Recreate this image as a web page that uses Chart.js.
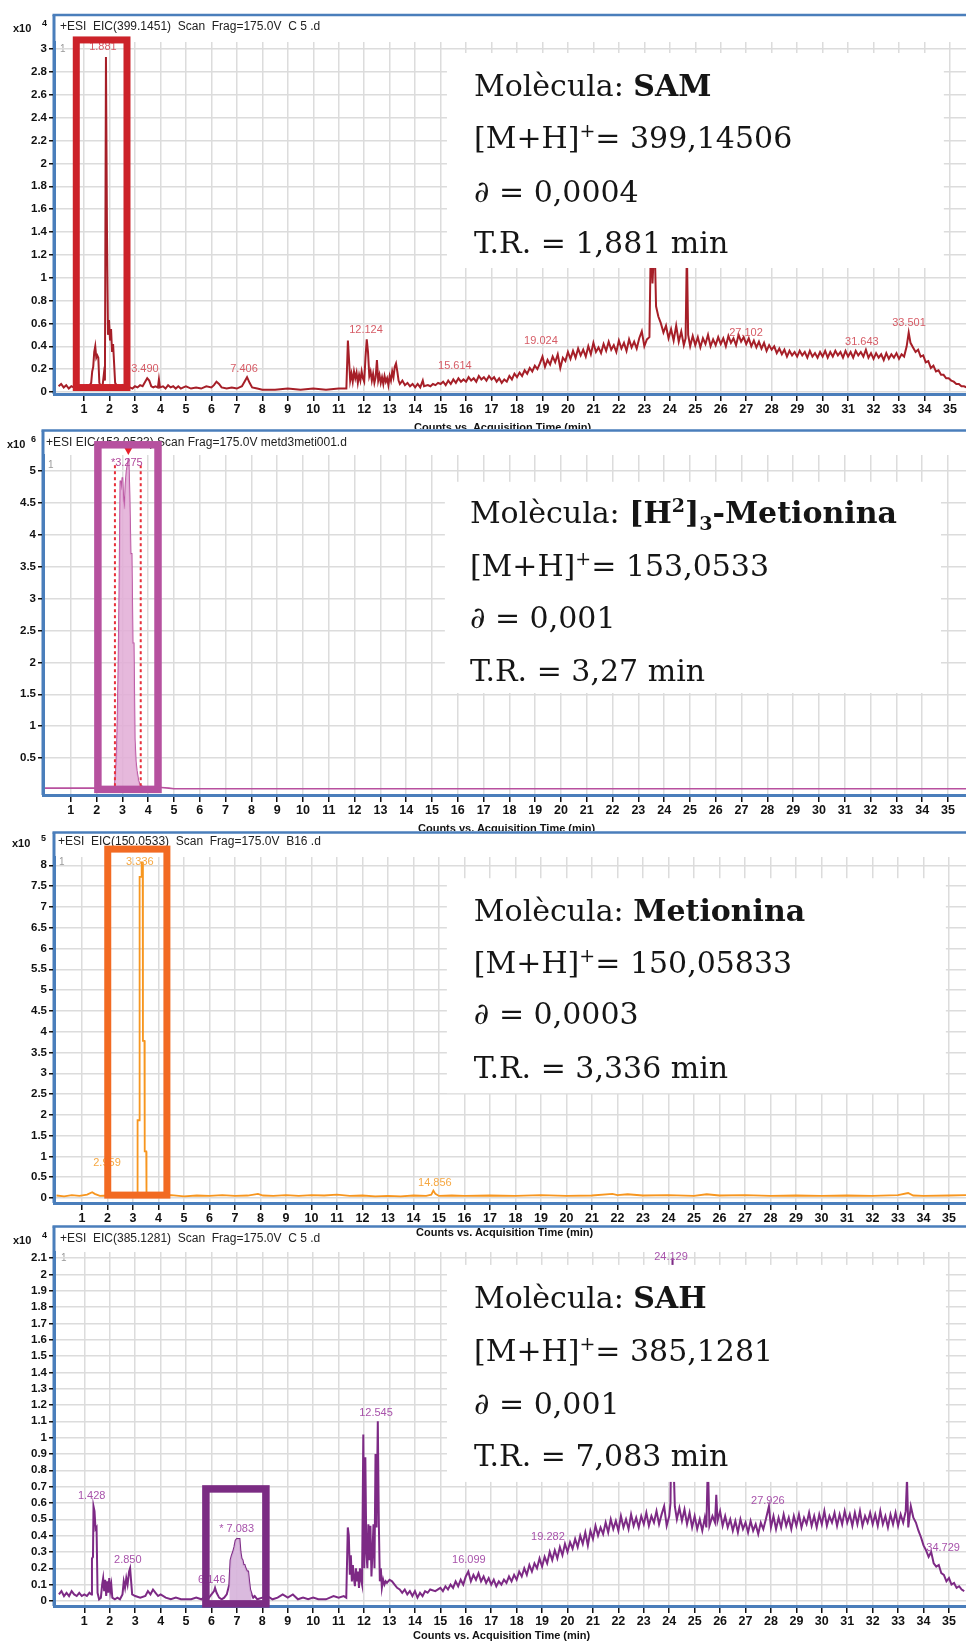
<!doctype html>
<html lang="ca">
<head>
<meta charset="utf-8">
<title>EIC SAM / Metionina / SAH</title>
<script src="https://cdn.jsdelivr.net/npm/chart.js"></script>
<style>
  * { margin: 0; padding: 0; }
  body { background: #fff; }
  #wrap { position: relative; width: 966px; height: 1641px; overflow: hidden; background: #fff; }
  canvas { position: absolute; left: 0; }
  .axt { position: absolute; font: bold 11px "Liberation Sans", Arial, sans-serif; line-height: 13px; color: #111; white-space: nowrap; }
</style>
</head>
<body>
<div id="wrap">
  <canvas id="c1" width="966" height="429" style="top:0"></canvas>
  <div class="axt" style="left:414px;top:421px">Counts vs. Acquisition Time (min)</div>
  <canvas id="c2" width="966" height="402" style="top:429px"></canvas>
  <div class="axt" style="left:418px;top:822px">Counts vs. Acquisition Time (min)</div>
  <canvas id="c3" width="966" height="394" style="top:831px"></canvas>
  <canvas id="c4" width="966" height="416" style="top:1225px"></canvas>
  <div class="axt" style="left:416px;top:1226px">Counts vs. Acquisition Time (min)</div>
  <div class="axt" style="left:413px;top:1629px">Counts vs. Acquisition Time (min)</div>
</div>
<script>
// ---- data (time in min, counts in the panel's x10^n unit) ----
const minuteTicks = [1,2,3,4,5,6,7,8,9,10,11,12,13,14,15,16,17,18,19,20,21,22,23,24,25,26,27,28,29,30,31,32,33,34,35];

// SAM, x10^4
const samTime = [
  0.00,0.10,0.20,0.30,0.40,0.50,0.60,0.70,0.80,0.90,
  1.00,1.10,1.20,1.28,1.32,1.36,1.40,1.44,1.48,1.52,
  1.56,1.60,1.66,1.72,1.78,1.82,1.86,1.90,1.94,1.98,
  2.02,2.06,2.10,2.14,2.18,2.22,2.30,2.40,2.50,2.60,
  2.70,2.80,2.90,3.00,3.10,3.20,3.30,3.40,3.48,3.56,
  3.64,3.72,3.80,3.90,3.94,3.98,4.10,4.20,4.30,4.40,
  4.50,4.60,4.70,4.80,4.90,5.00,5.20,5.40,5.60,5.80,
  6.00,6.10,6.20,6.30,6.40,6.60,6.80,7.00,7.20,7.30,
  7.40,7.50,7.60,7.80,8.00,8.50,9.00,9.50,10.00,10.50,
  11.00,11.30,11.36,11.40,11.45,11.50,11.55,11.60,11.65,11.70,
  11.75,11.80,11.85,11.90,11.95,12.00,12.05,12.10,12.15,12.20,
  12.25,12.30,12.35,12.40,12.45,12.50,12.55,12.60,12.65,12.70,
  12.75,12.80,12.85,12.90,12.95,13.00,13.05,13.10,13.15,13.20,
  13.25,13.30,13.35,13.40,13.50,13.60,13.70,13.80,13.90,14.00,
  14.10,14.20,14.30,14.35,14.50,14.60,14.70,14.80,14.90,
  15.0,15.1,15.2,15.3,15.4,15.5,15.6,15.7,15.8,15.9,
  16.0,16.1,16.2,16.3,16.4,16.5,16.6,16.7,16.8,16.9,
  17.0,17.1,17.2,17.3,17.4,17.5,17.6,17.7,17.8,17.9,
  18.0,18.1,18.2,18.3,18.4,18.5,18.6,18.7,18.8,18.9,
  19.0,19.1,19.2,19.3,19.4,19.5,19.6,19.7,19.8,19.9,
  20.0,20.1,20.2,20.3,20.4,20.5,20.6,20.7,20.8,20.9,
  21.0,21.1,21.2,21.3,21.4,21.5,21.6,21.7,21.8,21.9,
  22.0,22.1,22.2,22.3,22.4,22.5,22.6,22.7,22.8,22.9,
  23.0,23.1,23.2,23.26,23.32,23.40,23.46,23.55,23.65,23.75,
  23.85,23.95,24.05,24.15,24.25,24.35,24.45,24.55,24.62,24.67,
  24.72,24.80,24.9,25.0,25.1,25.2,25.3,25.4,25.5,25.6,
  25.7,25.8,25.9,26.0,26.1,26.2,26.3,26.4,26.5,26.6,
  26.7,26.8,26.9,27.0,27.1,27.2,27.3,27.4,27.5,27.6,
  27.7,27.8,27.9,28.0,28.1,28.2,28.3,28.4,28.5,28.6,
  28.7,28.8,28.9,29.0,29.1,29.2,29.3,29.4,29.5,29.6,
  29.7,29.8,29.9,30.0,30.1,30.2,30.3,30.4,30.5,30.6,
  30.7,30.8,30.9,31.0,31.1,31.2,31.3,31.4,31.5,31.6,
  31.7,31.8,31.9,32.0,32.1,32.2,32.3,32.4,32.5,32.6,
  32.7,32.8,32.9,33.0,33.1,33.2,33.3,33.38,33.45,33.55,
  33.65,33.75,33.85,33.95,34.05,34.15,34.25,34.35,34.45,34.55,
  34.65,34.75,34.85,34.95,35.05,35.15,35.25,35.35,35.45,35.55,
  35.65];
const samCounts = [
  0.05,0.07,0.04,0.06,0.03,0.05,0.04,0.06,0.03,0.05,
  0.04,0.06,0.05,0.08,0.18,0.22,0.35,0.40,0.30,0.32,
  0.30,0.08,0.05,0.04,0.16,0.10,2.93,1.40,0.50,0.63,
  0.45,0.55,0.35,0.42,0.25,0.08,0.05,0.04,0.06,0.03,
  0.05,0.04,0.03,0.05,0.04,0.06,0.05,0.09,0.12,0.10,
  0.05,0.04,0.05,0.04,0.11,0.04,0.05,0.03,0.06,0.04,
  0.05,0.03,0.05,0.03,0.04,0.05,0.03,0.04,0.03,0.05,
  0.04,0.06,0.09,0.07,0.04,0.03,0.04,0.03,0.05,0.09,
  0.13,0.08,0.04,0.03,0.02,0.02,0.03,0.02,0.03,0.02,
  0.03,0.03,0.45,0.30,0.10,0.16,0.09,0.18,0.12,0.17,
  0.08,0.15,0.10,0.18,0.12,0.09,0.30,0.46,0.35,0.14,
  0.18,0.10,0.16,0.08,0.13,0.28,0.10,0.15,0.08,0.13,
  0.07,0.14,0.09,0.12,0.06,0.14,0.10,0.18,0.13,0.22,
  0.25,0.18,0.10,0.07,0.10,0.06,0.08,0.05,0.07,0.04,
  0.07,0.04,0.10,0.05,0.06,0.05,0.07,0.06,0.08,
  0.07,0.09,0.06,0.10,0.07,0.11,0.08,0.12,0.09,0.11,
  0.09,0.13,0.10,0.12,0.09,0.14,0.11,0.13,0.10,0.14,
  0.11,0.13,0.09,0.12,0.08,0.11,0.09,0.14,0.11,0.16,
  0.13,0.17,0.14,0.19,0.16,0.21,0.18,0.23,0.20,0.25,
  0.31,0.22,0.28,0.24,0.31,0.26,0.33,0.21,0.30,0.27,
  0.35,0.29,0.36,0.30,0.38,0.32,0.37,0.31,0.40,0.33,
  0.43,0.35,0.39,0.34,0.42,0.36,0.44,0.37,0.41,0.35,
  0.45,0.38,0.43,0.36,0.46,0.39,0.44,0.38,0.47,0.53,
  0.40,0.46,0.48,1.40,0.95,1.35,0.75,0.66,0.60,0.52,
  0.58,0.47,0.55,0.45,0.58,0.44,0.53,0.41,0.47,1.25,
  0.50,0.40,0.49,0.41,0.48,0.39,0.47,0.42,0.50,0.40,
  0.46,0.41,0.48,0.42,0.47,0.40,0.49,0.43,0.47,0.41,
  0.50,0.44,0.48,0.42,0.47,0.40,0.45,0.39,0.44,0.38,
  0.43,0.36,0.41,0.37,0.40,0.34,0.38,0.33,0.37,0.31,
  0.36,0.32,0.35,0.31,0.36,0.32,0.35,0.30,0.36,0.31,
  0.34,0.30,0.35,0.31,0.36,0.30,0.35,0.31,0.36,0.32,
  0.35,0.30,0.36,0.31,0.35,0.30,0.36,0.32,0.35,0.31,
  0.37,0.30,0.34,0.29,0.34,0.30,0.33,0.28,0.34,0.29,
  0.33,0.30,0.34,0.29,0.33,0.31,0.40,0.52,0.43,0.39,
  0.35,0.37,0.31,0.32,0.26,0.27,0.21,0.23,0.18,0.19,
  0.15,0.15,0.12,0.12,0.10,0.09,0.07,0.07,0.05,0.05,
  0.04];
const samYTicks = [0,0.2,0.4,0.6,0.8,1,1.2,1.4,1.6,1.8,2,2.2,2.4,2.6,2.8,3];
const samPeaks = [['1.881',1.74,3.02],['3.490',3.39,0.2],['7.406',7.28,0.2],['12.124',12.07,0.54],['15.614',15.56,0.23],
  ['19.024',18.94,0.45],['27.102',26.99,0.52],['31.643',31.54,0.44],['33.501',33.39,0.6]];

// [2H]3-Metionina, x10^6
const d3Time = [
  0.00,1.00,2.00,2.60,2.70,2.76,2.80,2.84,2.88,2.92,
  2.96,3.00,3.04,3.08,3.12,3.16,3.20,3.24,3.28,3.32,
  3.36,3.40,3.44,3.48,3.52,3.56,3.62,3.68,3.80,4.00,
  4.50,4.80,5.00,10.00,20.00,30.00,35.70];
const d3Counts = [
  0.03,0.03,0.03,0.03,0.05,0.40,0.90,1.80,3.10,4.85,
  4.70,4.90,4.55,4.40,4.80,5.00,5.10,5.20,4.60,3.70,
  3.70,2.30,2.30,0.80,0.45,0.30,0.15,0.08,0.05,0.05,
  0.04,0.03,0.02,0.02,0.02,0.02,0.02];
const d3YTicks = [0.5,1,1.5,2,2.5,3,3.5,4,4.5,5];
const d3Peaks = [['*3.275',3.17,5.12]];

// Metionina, x10^5
const metTime = [
  0.00,0.30,0.60,0.90,1.20,1.40,1.50,1.70,2.00,2.40,
  2.80,2.96,3.10,3.17,3.18,3.25,3.26,3.33,3.34,3.38,
  3.39,3.45,3.46,3.52,3.53,3.70,4.00,4.50,5.00,5.50,
  6.00,6.50,7.00,7.50,7.90,8.10,8.50,9.00,9.50,10.00,
  10.50,11.00,11.50,12.00,12.50,13.00,13.50,14.00,14.50,14.70,
  14.78,14.86,15.00,15.50,16.00,17.00,18.00,19.00,20.00,21.00,
  21.80,22.00,22.40,23.00,24.00,25.00,25.50,26.00,27.00,28.00,
  29.00,30.00,31.00,32.00,33.00,33.40,33.60,34.00,35.00,35.70];
const metCounts = [
  0.06,0.04,0.07,0.05,0.08,0.14,0.10,0.05,0.06,0.04,
  0.05,0.10,0.06,0.10,1.87,1.87,7.72,7.72,8.07,8.07,
  3.78,3.78,1.12,1.12,0.08,0.05,0.06,0.07,0.04,0.06,
  0.05,0.07,0.05,0.06,0.10,0.06,0.05,0.07,0.05,0.07,
  0.06,0.08,0.05,0.06,0.04,0.05,0.04,0.06,0.05,0.08,
  0.18,0.10,0.05,0.06,0.05,0.06,0.05,0.07,0.05,0.06,
  0.10,0.07,0.09,0.06,0.07,0.05,0.09,0.06,0.07,0.05,
  0.06,0.05,0.06,0.05,0.07,0.12,0.06,0.05,0.06,0.07];
const metYTicks = [0,0.5,1,1.5,2,2.5,3,3.5,4,4.5,5,5.5,6,6.5,7,7.5,8];
const metPeaks = [['3.336',3.27,8.08],['2.959',1.98,0.84],['14.856',14.84,0.36]];

// SAH, x10^4
const sahTime = [
  0.00,0.10,0.20,0.30,0.40,0.50,0.60,0.70,0.80,0.90,
  1.00,1.10,1.20,1.28,1.30,1.34,1.36,1.40,1.44,1.48,
  1.52,1.58,1.65,1.70,1.74,1.78,1.82,1.86,1.90,1.94,
  1.98,2.02,2.06,2.10,2.20,2.30,2.40,2.50,2.55,2.60,
  2.65,2.70,2.76,2.80,2.84,2.88,3.00,3.20,3.40,3.50,
  3.60,3.70,3.80,3.90,4.00,4.20,4.40,4.60,4.80,5.00,
  5.20,5.40,5.60,5.80,5.90,6.00,6.10,6.14,6.20,6.30,
  6.40,6.50,6.60,6.70,6.75,6.80,6.85,6.90,6.95,7.00,
  7.05,7.10,7.14,7.18,7.22,7.26,7.30,7.34,7.40,7.44,
  7.48,7.52,7.58,7.64,7.70,7.80,8.00,8.20,8.40,8.60,
  8.80,9.00,9.20,9.40,9.60,9.80,10.00,10.20,10.50,10.80,
  11.00,11.20,11.30,11.36,11.40,11.44,11.48,11.52,11.56,11.60,
  11.64,11.68,11.72,11.76,11.80,11.84,11.88,11.92,11.97,12.01,
  12.05,12.09,12.13,12.17,12.21,12.25,12.29,12.33,12.37,12.41,
  12.45,12.49,12.54,12.58,12.62,12.66,12.70,12.75,12.80,12.85,
  12.90,13.00,13.10,13.20,13.30,13.40,13.50,13.60,13.70,13.80,
  13.90,14.00,14.10,14.20,14.30,14.40,14.50,14.60,14.80,
  15.0,15.1,15.2,15.3,15.4,15.5,15.6,15.7,15.8,15.9,
  16.0,16.1,16.2,16.3,16.4,16.5,16.6,16.7,16.8,16.9,
  17.0,17.1,17.2,17.3,17.4,17.5,17.6,17.7,17.8,17.9,
  18.0,18.1,18.2,18.3,18.4,18.5,18.6,18.7,18.8,18.9,
  19.0,19.1,19.2,19.3,19.4,19.5,19.6,19.7,19.8,19.9,
  20.0,20.1,20.2,20.3,20.4,20.5,20.6,20.7,20.8,20.9,
  21.0,21.1,21.2,21.3,21.4,21.5,21.6,21.7,21.8,21.9,
  22.0,22.1,22.2,22.3,22.4,22.5,22.6,22.7,22.8,22.9,
  23.0,23.1,23.2,23.3,23.4,23.5,23.6,23.7,23.8,23.9,
  24.0,24.05,24.10,24.13,24.16,24.22,24.3,24.4,24.5,24.6,
  24.7,24.8,24.9,25.0,25.1,25.2,25.3,25.4,25.46,25.52,
  25.58,25.7,25.8,25.85,25.9,26.0,26.1,26.2,26.3,26.4,
  26.5,26.6,26.7,26.8,26.9,27.0,27.1,27.2,27.3,27.4,
  27.5,27.6,27.7,27.8,27.92,28.0,28.1,28.2,28.3,28.4,
  28.5,28.6,28.7,28.8,28.9,29.0,29.1,29.2,29.3,29.4,
  29.5,29.6,29.7,29.8,29.9,30.0,30.1,30.2,30.3,30.4,
  30.5,30.6,30.7,30.8,30.9,31.0,31.1,31.2,31.3,31.4,
  31.5,31.6,31.7,31.8,31.9,32.0,32.1,32.2,32.3,32.4,
  32.5,32.6,32.7,32.8,32.9,33.0,33.1,33.2,33.3,33.35,
  33.4,33.5,33.6,33.7,33.8,33.9,34.0,34.1,34.2,34.3,
  34.4,34.5,34.6,34.7,34.8,34.9,35.0,35.1,35.2,35.3,
  35.4,35.5,35.6];
const sahCounts = [
  0.04,0.06,0.03,0.05,0.03,0.06,0.04,0.03,0.05,0.03,
  0.04,0.03,0.05,0.04,0.26,0.27,0.58,0.55,0.44,0.45,
  0.05,0.01,0.02,0.10,0.14,0.06,0.13,0.03,0.12,0.05,
  0.14,0.06,0.10,0.02,0.01,0.02,0.01,0.04,0.12,0.08,
  0.14,0.10,0.18,0.20,0.12,0.04,0.03,0.02,0.03,0.06,
  0.04,0.07,0.05,0.03,0.04,0.02,0.01,0.02,0.01,0.01,
  0.01,0.02,0.01,0.03,0.02,0.04,0.06,0.08,0.05,0.02,
  0.01,0.02,0.04,0.10,0.25,0.28,0.30,0.33,0.37,0.38,
  0.38,0.38,0.30,0.26,0.25,0.22,0.22,0.20,0.18,0.18,
  0.12,0.07,0.04,0.02,0.03,0.01,0.02,0.03,0.01,0.02,
  0.04,0.02,0.04,0.01,0.02,0.01,0.02,0.01,0.01,0.03,
  0.02,0.03,0.02,0.45,0.40,0.16,0.28,0.12,0.22,0.14,
  0.09,0.20,0.12,0.18,0.08,0.20,0.13,0.10,1.02,0.20,
  0.88,0.30,0.20,0.47,0.25,0.46,0.15,0.30,0.47,0.20,
  0.90,0.45,1.10,0.48,0.12,0.20,0.08,0.13,0.10,0.12,
  0.11,0.13,0.12,0.10,0.08,0.07,0.05,0.07,0.04,0.06,
  0.03,0.06,0.02,0.05,0.03,0.06,0.05,0.07,0.06,
  0.08,0.06,0.09,0.07,0.10,0.08,0.12,0.09,0.13,0.10,
  0.15,0.18,0.12,0.16,0.13,0.17,0.12,0.15,0.11,0.14,
  0.10,0.13,0.09,0.12,0.10,0.13,0.11,0.15,0.12,0.16,
  0.13,0.18,0.15,0.20,0.16,0.22,0.18,0.23,0.20,0.26,
  0.21,0.27,0.23,0.30,0.25,0.31,0.26,0.33,0.28,0.35,
  0.30,0.36,0.32,0.38,0.33,0.40,0.35,0.42,0.34,0.43,
  0.38,0.46,0.40,0.45,0.41,0.48,0.42,0.50,0.44,0.49,
  0.43,0.52,0.45,0.50,0.44,0.53,0.46,0.51,0.45,0.52,
  0.47,0.54,0.46,0.52,0.48,0.55,0.47,0.53,0.58,0.46,
  0.52,0.60,1.40,2.10,0.90,0.58,0.50,0.57,0.49,0.56,
  0.47,0.54,0.45,0.52,0.44,0.50,0.43,0.51,0.45,0.85,
  0.46,0.52,0.48,0.65,0.49,0.55,0.46,0.52,0.45,0.50,
  0.43,0.49,0.42,0.50,0.44,0.48,0.42,0.49,0.43,0.47,
  0.41,0.48,0.44,0.50,0.58,0.45,0.52,0.44,0.51,0.45,
  0.53,0.46,0.51,0.44,0.52,0.46,0.53,0.45,0.51,0.47,
  0.54,0.46,0.52,0.45,0.53,0.47,0.55,0.46,0.52,0.48,
  0.54,0.46,0.53,0.47,0.55,0.48,0.53,0.46,0.54,0.47,
  0.55,0.46,0.52,0.48,0.54,0.47,0.53,0.46,0.55,0.47,
  0.52,0.45,0.53,0.47,0.54,0.46,0.53,0.48,0.55,0.75,
  0.45,0.58,0.51,0.48,0.43,0.39,0.34,0.31,0.27,0.30,
  0.23,0.21,0.22,0.17,0.16,0.12,0.14,0.10,0.11,0.08,
  0.09,0.07,0.06];
const sahYTicks = [0,0.1,0.2,0.3,0.4,0.5,0.6,0.7,0.8,0.9,1,1.1,1.2,1.3,1.4,1.5,1.6,1.7,1.8,1.9,2,2.1];
const sahPeaks = [['1.428',1.29,0.64],['2.850',2.71,0.25],['6.146',6.01,0.13],['* 7.083',6.99,0.44],['12.545',12.47,1.153],
  ['16.099',16.12,0.25],['19.282',19.23,0.39],['24.129',24.07,2.107],['27.926',27.88,0.614],['34.729',34.77,0.325]];

// text of the pasted info boxes
const samInfo = [[{t:'Molècula: '},{t:'SAM',b:1}], [{t:'[M+H]'},{t:'+',sup:1},{t:'= 399,14506'}], [{t:'∂ = 0,0004'}], [{t:'T.R. = 1,881 min'}]];
const d3Info = [[{t:'Molècula: '},{t:'[H',b:1},{t:'2',b:1,sup:1},{t:']',b:1},{t:'3',b:1,sub:1},{t:'-Metionina',b:1}],
  [{t:'[M+H]'},{t:'+',sup:1},{t:'= 153,0533'}], [{t:'∂ = 0,001'}], [{t:'T.R. = 3,27 min'}]];
const metInfo = [[{t:'Molècula: '},{t:'Metionina',b:1}], [{t:'[M+H]'},{t:'+',sup:1},{t:'= 150,05833'}], [{t:'∂ = 0,0003'}], [{t:'T.R. = 3,336 min'}]];
const sahInfo = [[{t:'Molècula: '},{t:'SAH',b:1}], [{t:'[M+H]'},{t:'+',sup:1},{t:'= 385,1281'}], [{t:'∂ = 0,001'}], [{t:'T.R. = 7,083 min'}]];

const frameBlue = '#4a7ebb';
const sans = '"Liberation Sans", Arial, sans-serif';
const serif = '"DejaVu Serif", serif';

function pts(times, counts, t0, t1) {
  const out = [];
  times.forEach((t, i) => {
    if (t0 === undefined || (t >= t0 && t <= t1)) out.push({x: t, y: counts[i]});
  });
  return out;
}

function makeDecor(p) {
  return {
    id: 'decor',
    beforeDraw(chart) {
      const c = chart.ctx, a = chart.chartArea;
      c.save();
      c.fillStyle = '#fff';
      c.fillRect(0, 0, chart.width, chart.height);
      c.strokeStyle = frameBlue;
      c.lineWidth = 2.5;
      c.beginPath(); c.moveTo(a.left - 1.5, p.frameTop); c.lineTo(chart.width, p.frameTop); c.stroke();
      c.lineWidth = 3;
      c.beginPath(); c.moveTo(a.left, p.frameTop); c.lineTo(a.left, a.bottom); c.stroke();
      c.textBaseline = 'middle'; c.textAlign = 'left';
      c.fillStyle = '#222'; c.font = '12px ' + sans;
      c.fillText(p.title, p.titleX, p.titleY);
      c.fillStyle = '#111'; c.font = 'bold 11px ' + sans;
      c.fillText('x10', p.expX, p.titleY + 2);
      c.font = 'bold 9px ' + sans;
      c.fillText(p.exp, p.supX, p.titleY - 3);
      c.fillStyle = '#9a9a9a'; c.font = '10px ' + sans;
      c.fillText('1', p.oneX, p.oneY);
      c.restore();
    },
    afterDatasetsDraw(chart) {
      const c = chart.ctx, xs = chart.scales.x, ys = chart.scales.y;
      const X = v => xs.getPixelForValue(v), Y = v => ys.getPixelForValue(v);
      c.save();
      if (p.cuts) {
        c.strokeStyle = '#e8303a'; c.lineWidth = 2; c.setLineDash([3, 3]);
        p.cuts.times.forEach(t => {
          c.beginPath(); c.moveTo(X(t), Y(p.cuts.top)); c.lineTo(X(t), Y(0)); c.stroke();
        });
        c.setLineDash([]);
        const mx = X(p.cuts.markT), my = Y(p.cuts.markV);
        c.fillStyle = '#e8202a';
        c.beginPath(); c.moveTo(mx - 5, my - 4); c.lineTo(mx + 5, my - 4); c.lineTo(mx, my + 5); c.closePath(); c.fill();
      }
      c.font = '11px ' + sans; c.fillStyle = p.labelColor;
      c.textAlign = 'center'; c.textBaseline = 'middle';
      p.peaks.forEach(([s, t, v]) => c.fillText(s, X(t), Y(v)));
      const r = p.rect;
      c.strokeStyle = r.color; c.lineWidth = r.w;
      c.strokeRect(X(r.t0), Y(r.v0), X(r.t1) - X(r.t0), Y(r.v1) - Y(r.v0));
      const b = p.box;
      const bx = X(b.t0), by = Y(b.v0);
      c.fillStyle = '#fff';
      c.fillRect(bx, by, X(b.t1) - bx, Y(b.v1) - by);
      c.fillStyle = '#151515'; c.textAlign = 'left'; c.textBaseline = 'alphabetic';
      p.info.forEach((runs, i) => {
        let x = bx + b.dx;
        const base = by + b.dy[i];
        runs.forEach(run => {
          const small = run.sup || run.sub;
          c.font = (run.b ? 'bold ' : '') + (small ? 19 : 30) + 'px ' + serif;
          const yy = base + (run.sup ? -11 : run.sub ? 7 : 0);
          c.fillText(run.t, x, yy);
          x += c.measureText(run.t).width;
        });
      });
      c.restore();
    }
  };
}

function panel(id, p) {
  const canvas = document.getElementById(id);
  const H = canvas.height;
  const datasets = [];
  if (p.fill) {
    datasets.push({data: pts(p.time, p.counts, p.fill.t0, p.fill.t1), borderWidth: 0,
      backgroundColor: p.fill.color, fill: 'origin', pointRadius: 0});
  }
  datasets.push({data: pts(p.time, p.counts), borderColor: p.color, borderWidth: p.lw,
    pointRadius: 0, fill: false, tension: 0});
  const grid = {color: '#dcdcdc', lineWidth: 1.5, tickColor: '#111', tickWidth: 1.5};
  new Chart(canvas, {
    type: 'line',
    data: {datasets},
    options: {
      responsive: false,
      animation: false,
      events: [],
      layout: {padding: {left: 0, right: 0, top: p.area.top, bottom: 0}},
      scales: {
        x: {
          type: 'linear', min: p.xMin, max: p.xMax,
          afterBuildTicks: s => { s.ticks = minuteTicks.map(v => ({value: v})); },
          afterFit: s => { s.height = H - p.area.bottom; },
          ticks: {autoSkip: false, maxRotation: 0, color: '#111', padding: 1,
            font: {family: sans, size: 12.5, weight: 'bold'}, callback: v => String(v)},
          grid: Object.assign({tickLength: 7}, grid),
          border: {color: frameBlue, width: 3}
        },
        y: {
          min: p.yMin, max: p.yMax,
          afterBuildTicks: s => { s.ticks = p.yTicks.map(v => ({value: v})); },
          afterFit: s => { s.width = p.area.left; },
          ticks: {autoSkip: false, color: '#111', padding: 2,
            font: {family: sans, size: 11.5, weight: 'bold'}, callback: v => String(+v.toFixed(1))},
          grid: Object.assign({tickLength: 5}, grid),
          border: {color: frameBlue, width: 3}
        }
      },
      plugins: {legend: {display: false}, tooltip: {enabled: false}}
    },
    plugins: [makeDecor(p)]
  });
}

panel('c1', {
  time: samTime, counts: samCounts, color: '#a61f28', lw: 2, yTicks: samYTicks,
  xMin: -0.18, xMax: 35.63, yMin: -0.0175, yMax: 3.062,
  area: {left: 54, top: 42, bottom: 394},
  frameTop: 15, title: '+ESI  EIC(399.1451)  Scan  Frag=175.0V  C 5 .d', titleX: 60, titleY: 27,
  expX: 13, supX: 42, exp: '4', oneX: 60, oneY: 49,
  labelColor: '#d65c66', peaks: samPeaks,
  rect: {t0: 0.695, t1: 2.686, v0: 3.08, v1: 0.039, color: '#cc2229', w: 7},
  box: {t0: 15.25, t1: 34.76, v0: 2.966, v1: 1.085, dx: 27, dy: [43, 95, 149, 200]},
  info: samInfo
});

panel('c2', {
  time: d3Time, counts: d3Counts, color: '#b8509f', lw: 1.6, yTicks: d3YTicks,
  xMin: -0.078, xMax: 35.7, yMin: -0.078, yMax: 5.25,
  area: {left: 43, top: 26, bottom: 366},
  fill: {t0: 2.70, t1: 3.72, color: 'rgba(226,172,214,0.85)'},
  frameTop: 1.5, title: '+ESI EIC(153.0533) Scan Frag=175.0V metd3meti001.d', titleX: 46, titleY: 14,
  expX: 7, supX: 31, exp: '6', oneX: 48, oneY: 36,
  labelColor: '#b24a9c', peaks: d3Peaks,
  cuts: {times: [2.71, 3.71], top: 5.09, markT: 3.23, markV: 5.33},
  rect: {t0: 2.05, t1: 4.38, v0: 5.41, v1: 0.01, color: '#b6519f', w: 7.5},
  box: {t0: 15.5, t1: 34.73, v0: 4.83, v1: 1.52, dx: 25, dy: [41, 94, 146, 199]},
  info: d3Info
});

panel('c3', {
  time: metTime, counts: metCounts, color: '#f7961f', lw: 1.8, yTicks: metYTicks,
  xMin: -0.098, xMax: 35.67, yMin: -0.12, yMax: 8.2,
  area: {left: 54, top: 26, bottom: 372},
  frameTop: 1.5, title: '+ESI  EIC(150.0533)  Scan  Frag=175.0V  B16 .d', titleX: 58, titleY: 11,
  expX: 12, supX: 41, exp: '5', oneX: 59, oneY: 31,
  labelColor: '#f6a843', peaks: metPeaks,
  rect: {t0: 2.01, t1: 4.33, v0: 8.39, v1: 0.07, color: '#f26a22', w: 7},
  box: {t0: 15.31, t1: 34.88, v0: 7.69, v1: 2.52, dx: 27, dy: [43, 95, 146, 200]},
  info: metInfo
});

panel('c4', {
  time: sahTime, counts: sahCounts, color: '#7d2a85', lw: 2, yTicks: sahYTicks,
  xMin: -0.193, xMax: 35.67, yMin: -0.031, yMax: 2.137,
  area: {left: 54, top: 27, bottom: 381},
  fill: {t0: 6.70, t1: 7.60, color: 'rgba(214,178,218,0.9)'},
  frameTop: 1.5, title: '+ESI  EIC(385.1281)  Scan  Frag=175.0V  C 5 .d', titleX: 60, titleY: 14,
  expX: 13, supX: 42, exp: '4', oneX: 61, oneY: 33,
  labelColor: '#a853ab', peaks: sahPeaks,
  rect: {t0: 5.78, t1: 8.14, v0: 0.686, v1: -0.018, color: '#7b2c83', w: 7.5},
  box: {t0: 15.26, t1: 34.88, v0: 2.058, v1: 0.729, dx: 27, dy: [43, 96, 149, 201]},
  info: sahInfo
});
</script>
</body>
</html>
